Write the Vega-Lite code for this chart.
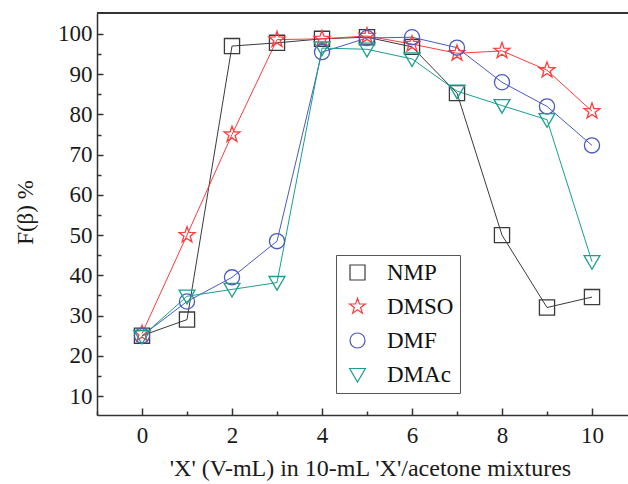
{
  "$schema": "https://vega.github.io/schema/vega-lite/v6.json",
  "width": 531,
  "height": 402,
  "autosize": {"type": "none"},
  "padding": {"left": 97, "top": 13, "right": 0, "bottom": 69},
  "config": {
    "view": {"stroke": null},
    "font": "Liberation Serif",
    "axis": {"labelFont": "Liberation Serif", "titleFont": "Liberation Serif", "labelColor": "#1a1a1a", "titleColor": "#1a1a1a", "domainColor": "#333333", "tickColor": "#333333", "domainWidth": 1.5, "tickWidth": 1.5, "grid": false, "labelFontSize": 23, "titleFontSize": 24, "titleFontWeight": "normal"},
    "legend": {"labelFont": "Liberation Serif"}
  },
  "data": {"values": [
    {"x": 0, "v": 25, "s": "NMP"}, {"x": 1, "v": 29, "s": "NMP"}, {"x": 2, "v": 97, "s": "NMP"}, {"x": 3, "v": 97.8, "s": "NMP"}, {"x": 4, "v": 98.8, "s": "NMP"}, {"x": 5, "v": 99.2, "s": "NMP"}, {"x": 6, "v": 96.8, "s": "NMP"}, {"x": 7, "v": 85.3, "s": "NMP"}, {"x": 8, "v": 50, "s": "NMP"}, {"x": 9, "v": 32, "s": "NMP"}, {"x": 10, "v": 34.6, "s": "NMP"},
    {"x": 0, "v": 25.5, "s": "DMSO"}, {"x": 1, "v": 50, "s": "DMSO"}, {"x": 2, "v": 75, "s": "DMSO"}, {"x": 3, "v": 98.6, "s": "DMSO"}, {"x": 4, "v": 98.8, "s": "DMSO"}, {"x": 5, "v": 99.5, "s": "DMSO"}, {"x": 6, "v": 97.5, "s": "DMSO"}, {"x": 7, "v": 95.2, "s": "DMSO"}, {"x": 8, "v": 95.8, "s": "DMSO"}, {"x": 9, "v": 91, "s": "DMSO"}, {"x": 10, "v": 80.8, "s": "DMSO"},
    {"x": 0, "v": 25, "s": "DMF"}, {"x": 1, "v": 33.5, "s": "DMF"}, {"x": 2, "v": 39.5, "s": "DMF"}, {"x": 3, "v": 48.5, "s": "DMF"}, {"x": 4, "v": 95.5, "s": "DMF"}, {"x": 5, "v": 99, "s": "DMF"}, {"x": 6, "v": 99.2, "s": "DMF"}, {"x": 7, "v": 96.6, "s": "DMF"}, {"x": 8, "v": 88, "s": "DMF"}, {"x": 9, "v": 82, "s": "DMF"}, {"x": 10, "v": 72.3, "s": "DMF"},
    {"x": 0, "v": 24.8, "s": "DMAc"}, {"x": 1, "v": 34.8, "s": "DMAc"}, {"x": 2, "v": 36.5, "s": "DMAc"}, {"x": 3, "v": 38.2, "s": "DMAc"}, {"x": 4, "v": 96.5, "s": "DMAc"}, {"x": 5, "v": 96.2, "s": "DMAc"}, {"x": 6, "v": 93.8, "s": "DMAc"}, {"x": 7, "v": 85.8, "s": "DMAc"}, {"x": 8, "v": 82.2, "s": "DMAc"}, {"x": 9, "v": 78.7, "s": "DMAc"}, {"x": 10, "v": 43.4, "s": "DMAc"}
  ]},
  "resolve": {"axis": {"x": "independent", "y": "independent"}},
  "layer": [
    {
      "mark": {"type": "line", "strokeWidth": 1},
      "encoding": {
        "x": {"field": "x", "type": "quantitative", "scale": {"domain": [-1, 10.8], "nice": false, "zero": false},
              "axis": {"orient": "bottom", "values": [0, 2, 4, 6, 8, 10], "tickSize": -7, "labelPadding": 16, "title": "'X' (V-mL) in 10-mL 'X'/acetone mixtures", "titleX": 273, "titleY": 60, "titleBaseline": "alphabetic", "titleAnchor": "middle"}},
        "y": {"field": "v", "type": "quantitative", "scale": {"domain": [5.28, 105.22], "nice": false, "zero": false},
              "axis": {"orient": "left", "values": [10, 20, 30, 40, 50, 60, 70, 80, 90, 100], "tickSize": -6, "labelPadding": 11, "title": "F(β) %", "titleX": -65, "titleY": 199, "titleFontSize": 23, "titleBaseline": "alphabetic", "titleAngle": -90}},
        "color": {"field": "s", "type": "nominal", "scale": {"domain": ["NMP", "DMSO", "DMF", "DMAc"], "range": ["#3a3a3a", "#ff3b3b", "#4a5bbf", "#1a9e90"]}},
        "detail": {"field": "s"}
      }
    },
    {
      "mark": {"type": "point", "filled": false, "size": 230, "strokeWidth": 1.3, "opacity": 1},
      "encoding": {
        "x": {"field": "x", "type": "quantitative", "axis": {"orient": "bottom", "values": [-1, 1, 3, 5, 7, 9], "tickSize": -4, "labels": false, "domain": false, "title": null}},
        "y": {"field": "v", "type": "quantitative", "axis": {"orient": "left", "values": [15, 25, 35, 45, 55, 65, 75, 85, 95], "tickSize": -4, "labels": false, "domain": false, "title": null}},
        "color": {"field": "s", "type": "nominal", "legend": {"orient": "none", "legendX": 239, "legendY": 242, "title": null, "strokeColor": "#555555", "fillColor": "white", "padding": 6, "symbolSize": 225, "symbolOffset": 4, "labelOffset": 18, "labelFontSize": 23, "labelColor": "#111111", "rowPadding": 10, "symbolStrokeWidth": 1.2}},
        "shape": {"field": "s", "type": "nominal", "scale": {"domain": ["NMP", "DMSO", "DMF", "DMAc"], "range": ["M-1,-1H1V1H-1Z", "M0,-1.1L0.26,-0.356L1.046,-0.34L0.418,0.136L0.647,0.89L0,0.44L-0.647,0.89L-0.418,0.136L-1.046,-0.34L-0.26,-0.356Z", "circle", "M-1.05,-0.8H1.05L0,1Z"]}}
      }
    },
    {
      "mark": {"type": "rule", "color": "#333333", "strokeWidth": 1.5},
      "encoding": {"y": {"datum": 105.22, "type": "quantitative", "axis": null}}
    }
  ]
}
